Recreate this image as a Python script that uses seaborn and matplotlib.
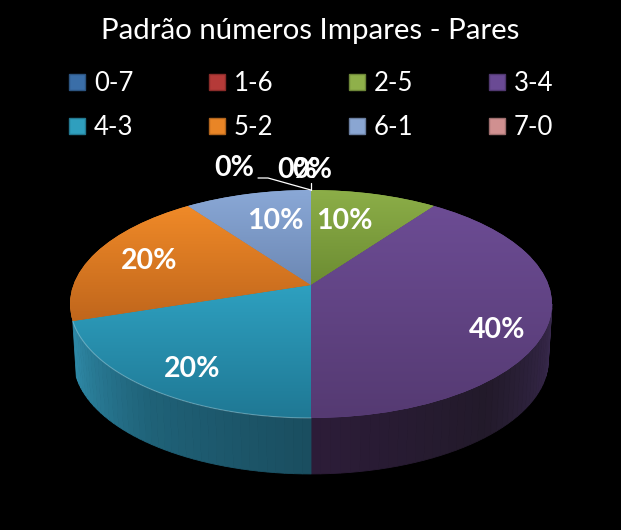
import numpy as np
import matplotlib
matplotlib.use('Agg')
import matplotlib.pyplot as plt
from matplotlib.patches import Patch
from matplotlib.transforms import Transform
import seaborn as sns

categories = ['0-7', '1-6', '2-5', '3-4', '4-3', '5-2', '6-1', '7-0']
shares = [0, 0, 10, 40, 20, 20, 10, 0]
legend_colors = ['#3a6ea8', '#b53a38', '#8fb04a', '#6a4a94', '#2f9fbe', '#e98526', '#8aa6d2', '#d09090']
legend_edges = ['#2c5480', '#8a2c2a', '#6d8638', '#503870', '#237890', '#b1651d', '#6a7ea0', '#9e6e6e']
top_colors = {
    '2-5': ('#8cae48', '#6c8c32'),
    '3-4': ('#6c4c94', '#553a72'),
    '4-3': ('#2ea0c0', '#1f7894'),
    '5-2': ('#f08a28', '#c0661c'),
    '6-1': ('#8aa8d6', '#6c88b4'),
}
side_colors = {
    '3-4': ('#3a2a50', '#221a2a', '#2c1c38'),
    '4-3': ('#1a4e60', '#1f6278', '#2f8aa8'),
}

sns.set_theme(style='white')
plt.rcParams['font.family'] = ['Lato', 'DejaVu Sans']

# apex of the pie on the picture, and the view of the tilted disc
CX, CY = 311, 285
A, B, K = 237.6, 110.8, 1 / 6
DEPTH = 56


class Tilt(Transform):
    input_dims = output_dims = 2

    def __init__(self, drop=0, squeeze=1.0):
        super().__init__()
        self.drop = drop
        self.squeeze = squeeze

    def transform_non_affine(self, values):
        xy = np.asarray(values, dtype=float)
        w = 1 + K * xy[:, 1]
        return np.column_stack([CX + self.squeeze * A * xy[:, 0] / w,
                                CY + self.drop - B * xy[:, 1] / w])


def rim(turn, drop=0, squeeze=1.0):
    # turn is the clockwise fraction from the top of the pie
    a = 2 * np.pi * np.asarray(turn)
    return Tilt(drop, squeeze).transform_non_affine(np.column_stack([np.sin(a), np.cos(a)]))


fig = plt.figure(figsize=(6.21, 5.30), dpi=100, facecolor='black')
ax = fig.add_axes([0, 0, 1, 1], facecolor='black')

bounds = np.cumsum([0] + shares) / sum(shares)

# side wall first, only the part that faces the viewer
vis_start = np.arccos(-K) / (2 * np.pi)
vis_end = 1 - vis_start
for i, name in enumerate(categories):
    if name not in side_colors:
        continue
    t0, t1 = max(bounds[i], vis_start), min(bounds[i + 1], vis_end)
    n = 40
    turns = np.linspace(t0, t1, n + 1)
    shades = sns.blend_palette(side_colors[name], n)
    upper, lower = rim(turns), rim(turns, DEPTH, 0.985)
    for j in range(n):
        ax.fill([upper[j, 0], upper[j + 1, 0], lower[j + 1, 0], lower[j, 0]],
                [upper[j, 1], upper[j + 1, 1], lower[j + 1, 1], lower[j, 1]],
                color=shades[j], lw=0.6, zorder=1)

wedges, _ = ax.pie(shares, startangle=90, counterclock=False, radius=1,
                   wedgeprops={'linewidth': 0})
gradient = np.linspace(0, 1, 256)
for i, (wedge, name) in enumerate(zip(wedges, categories)):
    wedge.set_transform(Tilt() + ax.transData)
    wedge.set_zorder(2)
    if name not in top_colors:
        wedge.set_visible(False)
        continue
    c0, c1 = top_colors[name]
    wedge.set_facecolor(c0)
    cmap = sns.blend_palette([c0, c1], as_cmap=True)
    # gradient runs over the height of this slice only
    edge = rim(np.linspace(bounds[i], bounds[i + 1], 60))
    y0, y1 = min(edge[:, 1].min(), CY), max(edge[:, 1].max(), CY)
    im = ax.imshow(gradient[:, None], cmap=cmap, aspect='auto', zorder=3,
                   extent=(60, 560, y1, y0), origin='upper')
    im.set_clip_path(wedge)

# thin light rim along the front of the top face
front = rim(np.linspace(bounds[4], bounds[5], 100))
ax.plot(front[:, 0], front[:, 1], color='white', alpha=0.28, lw=0.8, zorder=4)

ax.set_aspect('auto')
ax.set_xlim(0, 621)
ax.set_ylim(530, 0)
ax.axis('off')

# data labels
label_xy = {'2-5': (344, 221), '3-4': (497, 330), '4-3': (192, 369),
            '5-2': (149, 261), '6-1': (275, 221)}
for name, share in zip(categories, shares):
    if name in label_xy:
        ax.text(*label_xy[name], f'{share}%', color='white', fontsize=20.5, fontweight='bold',
                ha='center', va='center', zorder=6)
zero_xy = {'7-0': (234, 168), '0-7': (297, 170), '1-6': (312, 170)}
for name, (x, y) in zero_xy.items():
    ax.text(x, y, '0%', color='white', fontsize=20.5, fontweight='bold',
            ha='center', va='center', zorder=6)

# leader lines to the empty slices
tip = rim([0.0])[0]
ax.plot([258, 268, tip[0]], [178, 178, tip[1]], color='white', lw=0.9, zorder=5)
ax.plot([tip[0], tip[0]], [183, tip[1]], color='white', lw=0.9, zorder=5)

# matplotlib fills the legend by column, the reference reads by row
handles = [Patch(facecolor=c, edgecolor=e, lw=1, label=n)
           for n, c, e in zip(categories, legend_colors, legend_edges)]
order = [0, 4, 1, 5, 2, 6, 3, 7]
ax.legend(handles=[handles[k] for k in order], ncols=4, loc='upper left',
          bbox_to_anchor=(69 / 621, 1 - 71 / 530), bbox_transform=fig.transFigure,
          frameon=False, fontsize=18.5, labelcolor='white',
          handlelength=0.62, handleheight=0.62, handletextpad=0.35, columnspacing=2.94,
          labelspacing=0.74, borderpad=0, borderaxespad=0)

ax.text(310, 31, 'Padrão números Impares - Pares', color='white', fontsize=21.2,
        ha='center', va='center')

fig.savefig('out.png', dpi=100, facecolor='black')
